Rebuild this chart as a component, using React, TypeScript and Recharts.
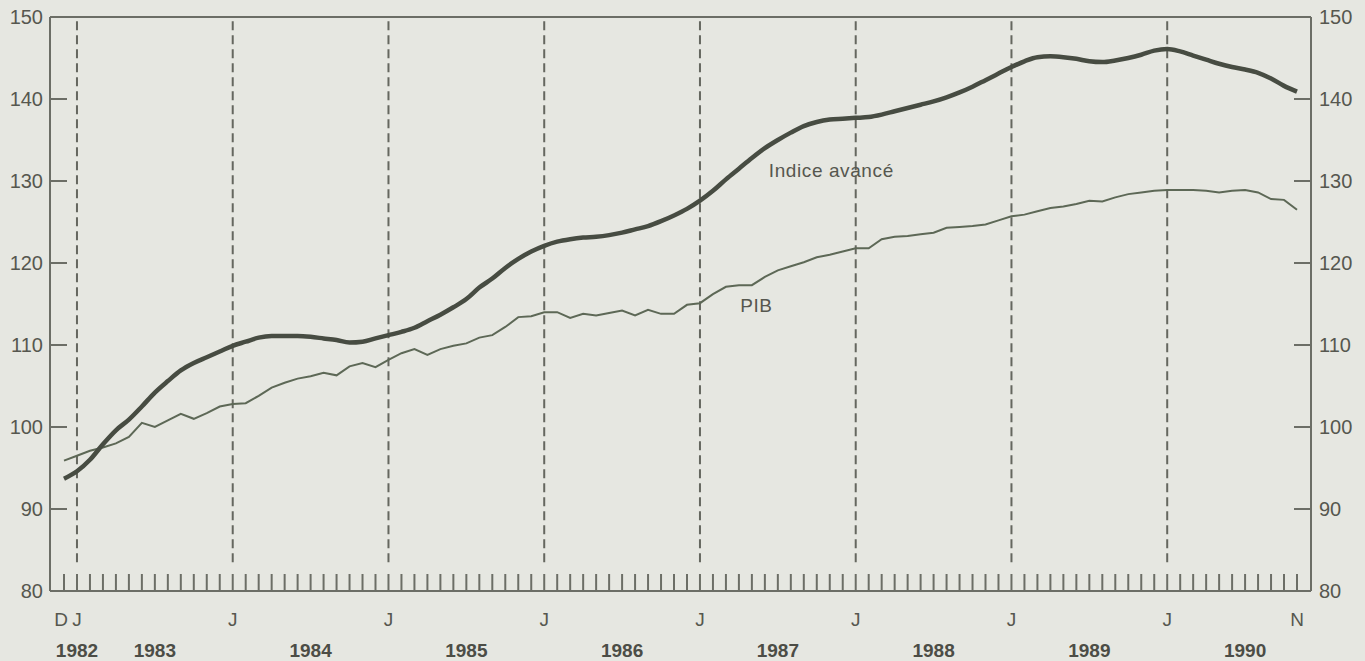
import { LineChart, Line, XAxis, YAxis, ReferenceLine, ReferenceDot } from 'recharts'

// monthly, Dec 1982 (index 0) .. Nov 1990 (index 95)
const indiceAvance = [
  93.7, 94.6, 96.0, 97.9, 99.6, 100.9, 102.5, 104.2, 105.6, 106.9, 107.8, 108.5,
  109.2, 109.9, 110.4, 110.9, 111.1, 111.1, 111.1, 111.0, 110.8, 110.6, 110.3, 110.4,
  110.8, 111.2, 111.6, 112.1, 112.9, 113.7, 114.6, 115.6, 117.0, 118.1, 119.4, 120.5,
  121.4, 122.1, 122.6, 122.9, 123.1, 123.2, 123.4, 123.7, 124.1, 124.5, 125.1, 125.8,
  126.6, 127.6, 128.8, 130.2, 131.5, 132.8, 134.0, 135.0, 135.9, 136.7, 137.2, 137.5,
  137.6, 137.7, 137.8, 138.1, 138.5, 138.9, 139.3, 139.7, 140.2, 140.8, 141.5, 142.3,
  143.1, 143.9, 144.6, 145.1, 145.2, 145.1, 144.9, 144.6, 144.5, 144.7, 145.0, 145.4,
  145.9, 146.1, 145.8, 145.3, 144.8, 144.3, 143.9, 143.6, 143.2, 142.5, 141.6, 140.9,
]

const pib = [
  95.9, 96.5, 97.1, 97.5, 98.0, 98.8, 100.5, 100.0, 100.8, 101.6, 101.0, 101.7,
  102.5, 102.8, 102.9, 103.8, 104.8, 105.4, 105.9, 106.2, 106.6, 106.3, 107.4, 107.8,
  107.3, 108.2, 109.0, 109.5, 108.8, 109.5, 109.9, 110.2, 110.9, 111.2, 112.2, 113.4,
  113.5, 114.0, 114.0, 113.3, 113.8, 113.6, 113.9, 114.2, 113.6, 114.3, 113.8, 113.8,
  114.9, 115.1, 116.2, 117.1, 117.3, 117.3, 118.3, 119.1, 119.6, 120.1, 120.7, 121.0,
  121.4, 121.8, 121.8, 122.9, 123.2, 123.3, 123.5, 123.7, 124.3, 124.4, 124.5, 124.7,
  125.2, 125.7, 125.9, 126.3, 126.7, 126.9, 127.2, 127.6, 127.5, 128.0, 128.4, 128.6,
  128.8, 128.9, 128.9, 128.9, 128.8, 128.6, 128.8, 128.9, 128.6, 127.8, 127.7, 126.5,
]

const monthTicks = indiceAvance.map((_, i) => i)
const janIndex = [1, 13, 25, 37, 49, 61, 73, 85]
const years = ['1982', '1983', '1984', '1985', '1986', '1987', '1988', '1989', '1990']
const yearIndex = [1, 7, 19, 31, 43, 55, 67, 79, 91]
const yTicks = [80, 90, 100, 110, 120, 130, 140, 150]

const data = indiceAvance.map((v, i) => ({ i, indice: v, pib: pib[i] }))

const BG = '#e6e7e1'
const AXIS = '#6c6e66'
const TEXT = '#56574f'
const FONT = '"Liberation Sans", Arial, sans-serif'

function monthLetter(i: number) {
  if (i === 0) return 'D'
  if (i === monthTicks.length - 1) return 'N'
  return janIndex.includes(i) ? 'J' : ''
}

function MonthTick(props: any) {
  const { x, y, payload } = props
  const i = payload.value
  const letter = monthLetter(i)
  const yi = yearIndex.indexOf(i)
  return (
    <g>
      <line x1={x} y1={y} x2={x} y2={y - 17} stroke={AXIS} strokeWidth={2} />
      {letter && (
        <text x={i === 0 ? x - 3 : x} y={y + 35} textAnchor="middle" fill={TEXT} fontSize={19} fontFamily={FONT}>
          {letter}
        </text>
      )}
      {yi >= 0 && (
        <text x={x} y={y + 66} textAnchor="middle" fill="#4c4d46" fontSize={19} fontWeight="bold" fontFamily={FONT}>
          {years[yi]}
        </text>
      )}
    </g>
  )
}

function LeftTick(props: any) {
  const { x, y, payload } = props
  return (
    <g>
      <line x1={x} y1={y} x2={x + 17} y2={y} stroke={AXIS} strokeWidth={2} />
      <text x={x - 7} y={y + 7} textAnchor="end" fill={TEXT} fontSize={20} fontFamily={FONT}>
        {payload.value}
      </text>
    </g>
  )
}

function RightTick(props: any) {
  const { x, y, payload } = props
  return (
    <g>
      <line x1={x} y1={y} x2={x - 17} y2={y} stroke={AXIS} strokeWidth={2} />
      <text x={x + 8} y={y + 7} textAnchor="start" fill={TEXT} fontSize={20} fontFamily={FONT}>
        {payload.value}
      </text>
    </g>
  )
}

const seriesLabel = (text: string) => (p: any) => (
  <text x={p.cx} y={p.cy} fill={TEXT} fontSize={19} letterSpacing={0.6} fontFamily={FONT} dominantBaseline="central">
    {text}
  </text>
)

export default function App() {
  return (
    <div style={{ width: 1365, height: 661, background: BG }}>
      <style>{`body { margin: 0; background: ${BG}; }`}</style>
      <LineChart width={1365} height={661} data={data} margin={{ top: 16, right: 0, bottom: 0, left: 0 }}>
        <XAxis
          xAxisId="top"
          orientation="top"
          type="number"
          dataKey="i"
          domain={[0, 95]}
          padding={{ left: 14, right: 14 }}
          height={1}
          tick={false}
          tickLine={false}
          axisLine={{ stroke: AXIS, strokeWidth: 2 }}
        />
        <XAxis
          xAxisId="bottom"
          type="number"
          dataKey="i"
          domain={[0, 95]}
          ticks={monthTicks}
          interval={0}
          padding={{ left: 14, right: 14 }}
          height={70}
          tickSize={0}
          tickMargin={0}
          tickLine={false}
          tick={MonthTick}
          axisLine={{ stroke: AXIS, strokeWidth: 2 }}
        />
        <YAxis
          yAxisId="left"
          domain={[80, 150]}
          ticks={yTicks}
          width={50}
          tickSize={0}
          tickMargin={0}
          tickLine={false}
          tick={LeftTick}
          axisLine={{ stroke: AXIS, strokeWidth: 2 }}
        />
        <YAxis
          yAxisId="right"
          orientation="right"
          domain={[80, 150]}
          ticks={yTicks}
          width={54}
          tickSize={0}
          tickMargin={0}
          tickLine={false}
          tick={RightTick}
          axisLine={{ stroke: AXIS, strokeWidth: 2 }}
        />
        {janIndex.map((j) => (
          <ReferenceLine
            key={j}
            xAxisId="bottom"
            yAxisId="left"
            segment={[{ x: j, y: 83.5 }, { x: j, y: 150 }]}
            stroke="#65675f"
            strokeWidth={2}
            strokeDasharray="9 5"
          />
        ))}
        <Line
          xAxisId="bottom"
          yAxisId="right"
          type="linear"
          dataKey="pib"
          stroke="#5d6856"
          strokeWidth={2}
          dot={false}
          isAnimationActive={false}
        />
        <Line
          xAxisId="bottom"
          yAxisId="left"
          type="monotone"
          dataKey="indice"
          stroke="#474c42"
          strokeWidth={4.5}
          dot={false}
          isAnimationActive={false}
        />
        <ReferenceDot xAxisId="bottom" yAxisId="left" x={54.3} y={131.3} r={0} shape={seriesLabel('Indice avancé')} />
        <ReferenceDot xAxisId="bottom" yAxisId="left" x={52.1} y={114.8} r={0} shape={seriesLabel('PIB')} />
      </LineChart>
    </div>
  )
}
